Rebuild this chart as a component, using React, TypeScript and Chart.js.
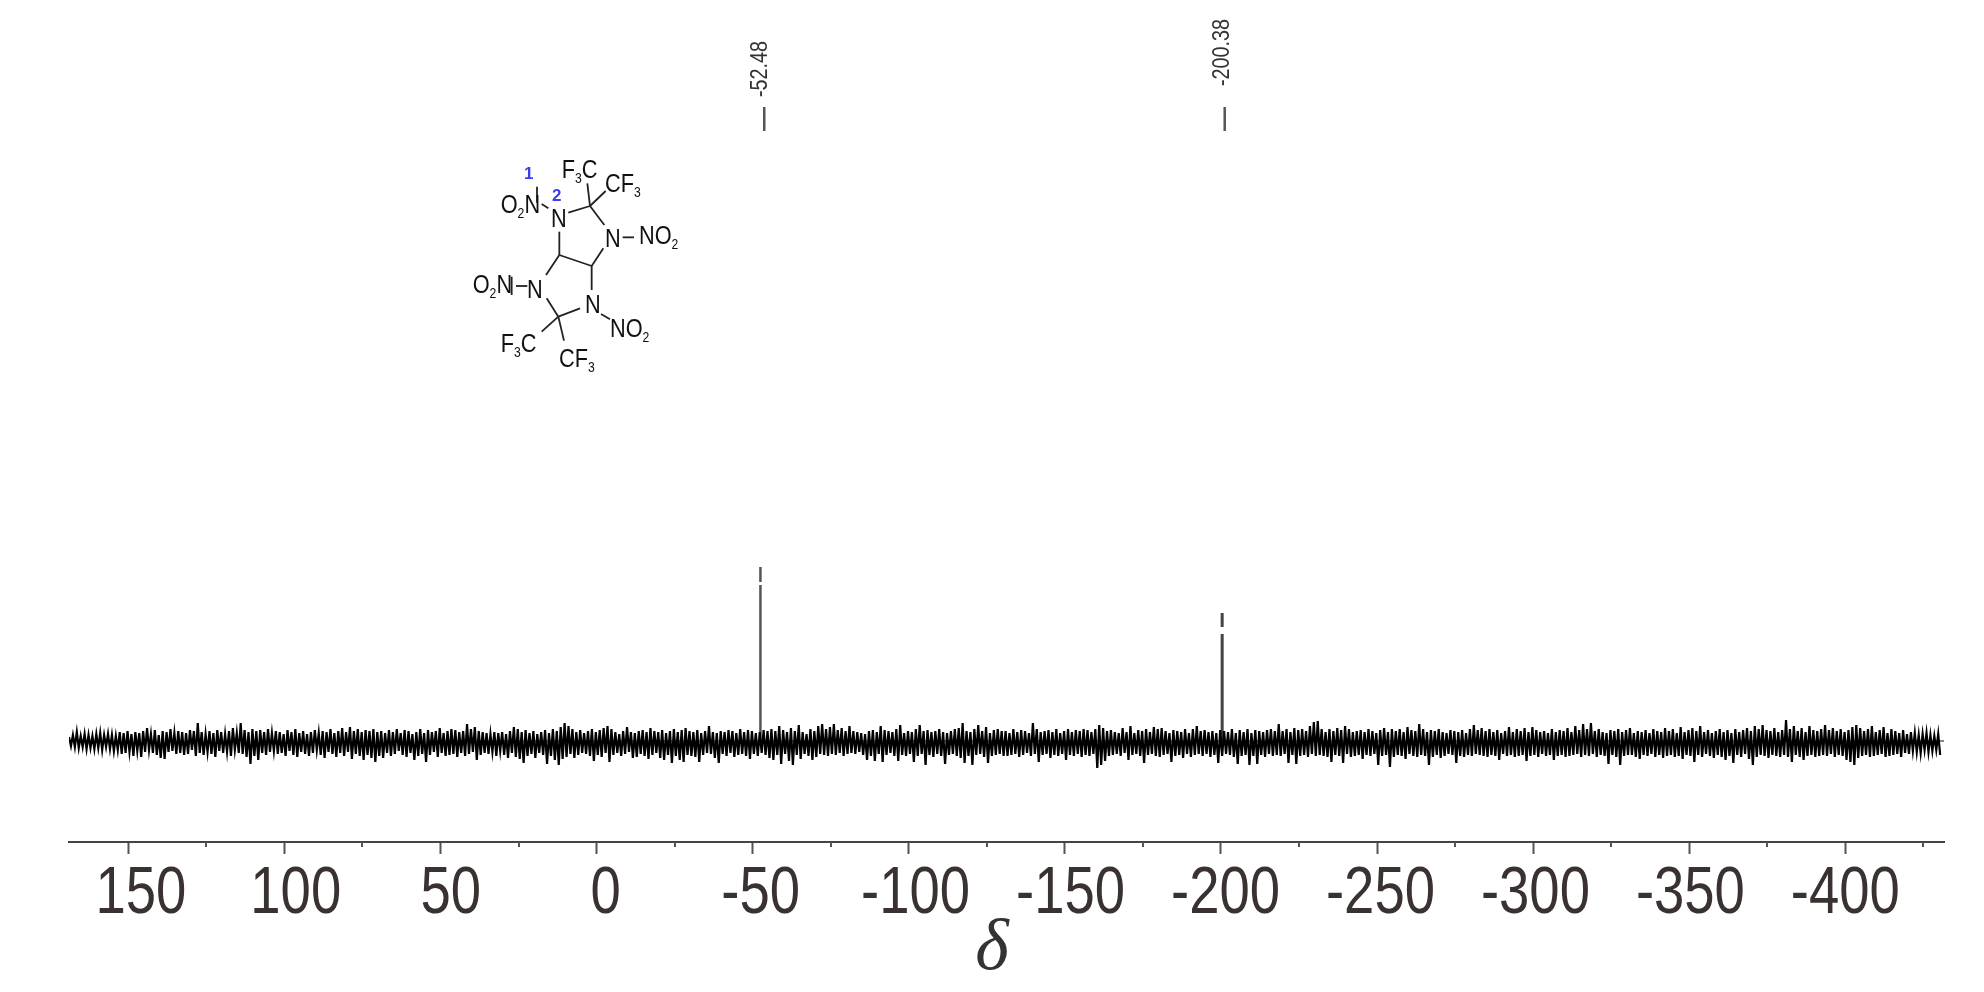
import React, { useEffect, useRef } from "react";
import { Chart, registerables } from "chart.js";

Chart.register(...registerables);

// Spectrum window and axis (ppm)
const axisStart = 169;
const axisEnd = -431.6;
const majorTicks = [150, 100, 50, 0, -50, -100, -150, -200, -250, -300, -350, -400];
const minorTicks = [125, 75, 25, -25, -75, -125, -175, -225, -275, -325, -375, -425];
const ppmPerSample = 0.625;

// Noise, one run per stretch of the baseline
const noiseA = [
  4,-5,6,-6,9,-7,5,-6,7,-8,6,-7,5,-8,7,-7,8,-9,6,-6,
  7,-8,6,-10,5,-9,9,-13,8,-12,10,-11,7,-15,9,-10,8,-16,10,-11,
  13,-9,7,-12,11,-14,6,-17,10,-18,9,-11,12,-10,8,-13,10,-12,9,-14,
  8,-13,11,-9,10,-15,18,-12,9,-14,7,-11,10,-13,8,-16,11,-10,9,-12,
  7,-11,10,-15,13,-9,8,-12,18,-13,11,-16,9,-23,12,-15,10,-19,11,-12,
  9,-14,12,-11,8,-10,10,-13,9,-12,7,-15,11,-10,9,-14,12,-16,8,-11,
  10,-13,7,-15,9,-12,11,-9,8,-14,10,-17,9,-11,12,-13,8,-16,10,-12,
  13,-15,9,-11,14,-18,10,-13,12,-15,9,-19,11,-14,10,-17,12,-21,9,-15,
];
const noiseB = [
  10,-17,8,-12,11,-15,9,-13,12,-10,8,-14,11,-16,10,-12,7,-19,9,-15,
  12,-13,8,-21,11,-14,9,-11,10,-16,13,-12,8,-15,10,-14,12,-13,11,-16,
  9,-12,10,-15,17,-13,12,-11,14,-19,10,-14,9,-12,8,-13,7,-11,9,-15,
  8,-10,9,-14,7,-17,10,-12,14,-16,12,-18,9,-22,11,-15,8,-13,10,-17,
  7,-12,9,-14,11,-23,8,-15,12,-19,10,-24,14,-18,18,-16,15,-13,12,-17,
  9,-14,11,-12,8,-13,10,-15,12,-20,9,-14,11,-16,13,-12,15,-21,12,-14,
  9,-12,7,-15,10,-13,14,-11,9,-17,8,-16,10,-13,11,-15,9,-18,13,-14,
  10,-12,9,-17,11,-19,8,-14,10,-22,12,-15,9,-19,11,-21,13,-14,10,-15,
];
const noiseC = [
  9,-16,11,-21,8,-14,10,-12,15,-13,9,-17,8,-22,10,-13,9,-15,11,-12,
  10,-16,8,-14,12,-13,9,-15,11,-18,10,-13,8,-15,9,-12,11,-14,10,-17,
  12,-19,10,-14,15,-23,11,-13,9,-20,13,-24,10,-14,16,-18,9,-13,7,-15,
  12,-19,10,-16,15,-13,17,-14,12,-15,14,-13,17,-14,11,-12,13,-15,10,-13,
  15,-12,10,-13,9,-11,8,-14,7,-19,10,-15,11,-20,9,-13,15,-21,11,-14,
  10,-12,9,-15,12,-20,16,-14,8,-15,10,-13,9,-21,12,-15,16,-13,10,-24,
  11,-14,9,-16,10,-13,12,-15,9,-23,8,-14,10,-13,12,-15,13,-17,18,-22,
  10,-15,9,-24,12,-14,16,-13,10,-16,14,-22,8,-15,11,-14,12,-13,10,-15,
];
const noiseD = [
  10,-15,8,-14,12,-13,9,-16,11,-14,10,-12,8,-15,18,-13,12,-21,9,-14,
  10,-13,11,-17,9,-14,12,-15,8,-13,10,-19,12,-14,9,-15,11,-13,10,-16,
  12,-14,11,-15,9,-13,12,-27,16,-24,13,-20,10,-15,11,-14,9,-13,8,-15,
  13,-12,9,-19,15,-14,8,-13,11,-15,10,-22,12,-14,9,-13,14,-15,12,-16,
  13,-14,10,-13,8,-21,11,-15,10,-14,9,-17,12,-13,8,-16,12,-14,15,-13,
  10,-15,11,-13,9,-16,10,-14,8,-22,11,-15,10,-13,9,-14,12,-16,8,-23,
  11,-15,9,-14,12,-24,8,-15,11,-23,10,-14,9,-16,11,-13,12,-15,10,-14,
  17,-15,10,-13,12,-22,9,-14,13,-23,11,-15,12,-14,10,-16,15,-13,19,-15,
];
const noiseE = [
  20,-14,12,-15,9,-16,12,-21,10,-14,13,-15,11,-22,15,-13,12,-16,9,-15,
  10,-14,11,-18,9,-14,12,-15,10,-13,8,-24,11,-15,13,-14,9,-26,12,-16,
  10,-14,12,-15,9,-18,14,-13,11,-15,10,-16,17,-14,12,-15,9,-24,11,-16,
  10,-14,12,-17,9,-15,8,-13,11,-14,10,-22,9,-15,11,-16,8,-14,12,-15,
  16,-13,11,-14,13,-15,10,-16,12,-14,9,-15,11,-19,8,-13,10,-15,14,-14,
  9,-16,12,-15,10,-14,13,-20,9,-15,14,-14,11,-16,9,-13,10,-15,8,-14,
  12,-19,9,-15,11,-14,10,-16,13,-15,9,-14,15,-13,11,-16,17,-14,12,-15,
  18,-13,10,-16,12,-14,9,-15,8,-23,11,-14,10,-16,12,-24,9,-15,11,-14,
];
const noiseF = [
  13,-14,8,-16,10,-18,9,-14,11,-15,8,-13,12,-16,10,-14,9,-17,13,-15,
  10,-14,12,-16,8,-15,14,-18,9,-14,11,-15,13,-21,10,-14,15,-16,9,-13,
  11,-15,8,-17,10,-14,12,-16,9,-19,11,-15,8,-22,12,-14,9,-16,11,-13,
  13,-18,10,-24,15,-16,12,-14,16,-15,11,-17,10,-14,13,-15,9,-16,11,-14,
  21,-16,12,-21,15,-14,10,-16,13,-19,9,-15,15,-14,11,-16,10,-15,12,-14,
  16,-15,11,-13,13,-16,10,-14,12,-15,9,-19,11,-21,14,-24,16,-17,13,-15,
  10,-14,12,-16,15,-15,9,-14,11,-13,14,-16,8,-15,12,-14,10,-13,8,-16,
  11,-12,7,-13,9,-10,8,-11,6,-12,7,-9,8,-11,6,-10,5,-9,7,-14,
];
const noiseValues = [...noiseA, ...noiseB, ...noiseC, ...noiseD, ...noiseE, ...noiseF];

// Residual flat trace that shows through the noise
const baselinePpm = [50, axisEnd];
const baselineLevel = [0, 0];

// Peaks: the plotted line breaks just under each top
const peakShifts = [-52.48, -200.38];
const peakOneLevels = [0, 156, null, 159, 174];
const peakTwoLevels = [0, 107, null, 114, 128];

// Assignment labels above the spectrum
const labelTexts = ["-52.48", "-200.38"];
const labelBottoms = [97, 86];
const labelMarkPpm = [-53.7, -201.2];
const labelMarkLevels = [610, 634];

const axisTitle = "δ";

const sub = { fontSize: 14, dy: 5 };

const bonds: number[][] = [
  [385, 248, 450, 228], [450, 228, 493, 285], [490, 355, 455, 408], [455, 408, 358, 375],
  [358, 375, 358, 305], [358, 375, 318, 435], [320, 505, 355, 560], [355, 560, 420, 535],
  [455, 480, 455, 408], [355, 560, 305, 605], [355, 560, 372, 632], [450, 228, 442, 160],
  [450, 228, 497, 183], [325, 235, 305, 222], [291, 170, 291, 218], [548, 322, 582, 322],
  [228, 468, 262, 468], [215, 440, 215, 495], [483, 552, 510, 568],
];

const atoms: { x: number; y: number; parts: [string, boolean][] }[] = [
  { x: 500.7, y: 213, parts: [["O", false], ["2", true], ["N", false]] },
  { x: 551, y: 226.7, parts: [["N", false]] },
  { x: 561.7, y: 178, parts: [["F", false], ["3", true], ["C", false]] },
  { x: 605, y: 191.7, parts: [["CF", false], ["3", true]] },
  { x: 605, y: 246.7, parts: [["N", false]] },
  { x: 639, y: 244, parts: [["NO", false], ["2", true]] },
  { x: 472.7, y: 293.3, parts: [["O", false], ["2", true], ["N", false]] },
  { x: 527, y: 298, parts: [["N", false]] },
  { x: 585, y: 313, parts: [["N", false]] },
  { x: 610, y: 336.7, parts: [["NO", false], ["2", true]] },
  { x: 500.7, y: 351.7, parts: [["F", false], ["3", true], ["C", false]] },
  { x: 559, y: 367, parts: [["CF", false], ["3", true]] },
];

const sans = '"Liberation Sans", Arial, sans-serif';
const tickSqueeze = 0.825;
const labelSqueeze = 0.86;
const atomSqueeze = 0.87;
// The printed numbers sit on a slightly tighter pitch than the tick marks
const tickLabelDrift = 0.0227;

const overlayPlugin = {
  id: "overlay",
  afterDraw(chart: any) {
    const { ctx, scales } = chart;
    const x = scales.x;
    const axisY = chart.chartArea.bottom;
    ctx.save();
    ctx.strokeStyle = "#555";
    ctx.lineWidth = 2;
    minorTicks.forEach((v) => {
      const px = Math.round(x.getPixelForValue(v));
      ctx.beginPath();
      ctx.moveTo(px, axisY);
      ctx.lineTo(px, axisY + 5);
      ctx.stroke();
    });

    ctx.fillStyle = "#3a3230";
    ctx.font = `66px ${sans}`;
    ctx.textAlign = "center";
    ctx.textBaseline = "alphabetic";
    majorTicks.forEach((v) => {
      ctx.save();
      ctx.translate(x.getPixelForValue(v) + tickLabelDrift * (v + 400), 913);
      ctx.scale(tickSqueeze, 1);
      ctx.fillText(String(v), 0, 0);
      ctx.restore();
    });

    ctx.fillStyle = "#333";
    ctx.font = `23px ${sans}`;
    ctx.textAlign = "left";
    ctx.textBaseline = "middle";
    labelTexts.forEach((t, i) => {
      ctx.save();
      ctx.translate(x.getPixelForValue(peakShifts[i]), labelBottoms[i]);
      ctx.rotate(-Math.PI / 2);
      ctx.scale(labelSqueeze, 1);
      ctx.fillText(t, 0, 0);
      ctx.restore();
    });

    ctx.fillStyle = "#333";
    ctx.font = 'italic 72px "Liberation Serif", serif';
    ctx.textAlign = "center";
    ctx.fillText(axisTitle, 992, 950);
    ctx.restore();
  },
};

export default function App() {
  const ref = useRef<HTMLCanvasElement>(null);
  useEffect(() => {
    document.body.style.margin = "0";
    const noisePoints = noiseValues.map((y, i) => ({ x: axisStart - i * ppmPerSample, y }));
    const line = (data: any[], color: string, width: number) => ({
      data,
      borderColor: color,
      borderWidth: width,
      pointRadius: 0,
      showLine: true,
      spanGaps: false,
      tension: 0,
    });
    const chart = new Chart(ref.current!, {
      type: "scatter",
      data: {
        datasets: [
          line(noisePoints, "#000", 2.2),
          line(baselinePpm.map((x, i) => ({ x, y: baselineLevel[i] })), "#111", 1),
          line(peakOneLevels.map((y) => ({ x: peakShifts[0], y })), "#555", 2.5),
          line(peakTwoLevels.map((y) => ({ x: peakShifts[1], y })), "#444", 3),
          line(labelMarkLevels.map((y) => ({ x: labelMarkPpm[0], y })), "#555", 2.5),
          line(labelMarkLevels.map((y) => ({ x: labelMarkPpm[1], y })), "#555", 2.5),
        ],
      },
      options: {
        animation: false,
        responsive: false,
        layout: { padding: { left: 69, right: 40, top: 0, bottom: 0 } },
        plugins: { legend: { display: false }, tooltip: { enabled: false } },
        scales: {
          x: {
            type: "linear",
            reverse: true,
            min: axisEnd,
            max: axisStart,
            afterBuildTicks: (s: any) => {
              s.ticks = majorTicks.map((value) => ({ value }));
            },
            afterFit: (s: any) => {
              s.height = 150;
            },
            border: { display: true, color: "#444", width: 2 },
            grid: {
              drawOnChartArea: false,
              drawTicks: true,
              tickLength: 12,
              tickColor: "#555",
              tickWidth: 2,
            },
            ticks: { display: false },
          },
          y: { type: "linear", display: false, min: -101, max: 741 },
        },
      },
      plugins: [overlayPlugin],
    } as any);
    return () => chart.destroy();
  }, []);

  const mx = (v: number) => 440 + v / 3;
  const my = (v: number) => 130 + v / 3;
  return (
    <div style={{ position: "relative", width: 1984, height: 992, background: "#fff" }}>
      <canvas ref={ref} width={1984} height={992} style={{ display: "block" }} />
      <svg
        width={1984}
        height={992}
        style={{ position: "absolute", left: 0, top: 0, pointerEvents: "none" }}
      >
        {bonds.map((b, i) => (
          <line
            key={i}
            x1={mx(b[0])}
            y1={my(b[1])}
            x2={mx(b[2])}
            y2={my(b[3])}
            stroke="#222"
            strokeWidth={1.8}
          />
        ))}
        {atoms.map((a, i) => (
          <text
            key={i}
            transform={`translate(${a.x} ${a.y}) scale(${atomSqueeze} 1)`}
            fontFamily={sans}
            fontSize={25}
            fill="#111"
          >
            {a.parts.map(([t, isSub], j) =>
              isSub ? (
                <tspan key={j} fontSize={sub.fontSize} dy={sub.dy}>
                  {t}
                </tspan>
              ) : (
                <tspan key={j} dy={j > 0 && a.parts[j - 1][1] ? -sub.dy : 0}>
                  {t}
                </tspan>
              )
            )}
          </text>
        ))}
        <text x={524} y={179} fontFamily={sans} fontSize={17} fontWeight="bold" fill="#3c3cf0">
          1
        </text>
        <text x={552} y={201} fontFamily={sans} fontSize={17} fontWeight="bold" fill="#3c3cf0">
          2
        </text>
      </svg>
    </div>
  );
}
